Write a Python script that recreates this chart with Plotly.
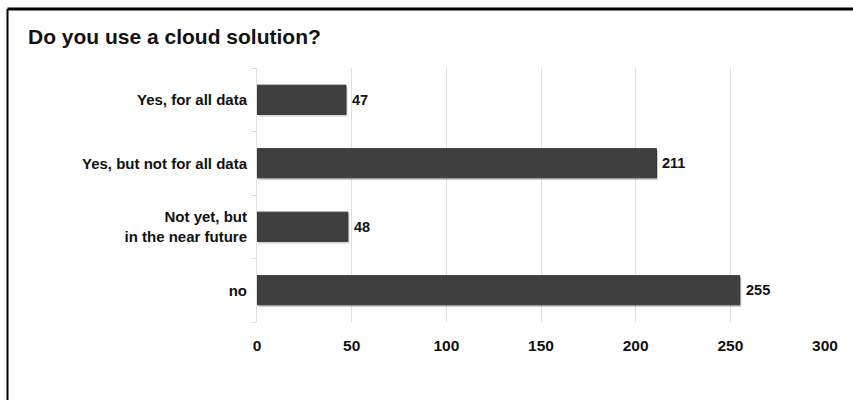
import plotly.graph_objects as go

categories = ["Yes, for all data", "Yes, but not for all data", "Not yet, but<br>in the near future", "no"]
values = [47, 211, 48, 255]
x_ticks = [0, 50, 100, 150, 200, 250, 300]

FONT = "Liberation Sans, Arial, sans-serif"

fig = go.Figure()
# soft shadow behind bars
fig.add_trace(go.Bar(
    x=values, y=categories, orientation="h", base=0.8,
    marker=dict(color="rgba(0,0,0,0.18)", line=dict(width=0)),
    width=0.46, offset=-0.23 - 0.035, hoverinfo="skip",
))
fig.add_trace(go.Bar(
    x=values, y=categories, orientation="h",
    marker=dict(color="#3f3f3f", line=dict(color="#333333", width=1)),
    cliponaxis=False, width=0.46, offset=-0.23,
))
for cat, v in zip(categories, values):
    fig.add_annotation(x=v, y=cat, text=str(v), showarrow=False, xanchor="left",
                       xshift=4, font=dict(family=FONT, size=14.5, color="#111111", weight="bold"))

fig.update_layout(
    width=853, height=400,
    margin=dict(l=257, r=28, t=68, b=78),
    paper_bgcolor="white", plot_bgcolor="white",
    showlegend=False, barmode="overlay",
    title=dict(text="Do you use a cloud solution?", x=28/853, xanchor="left",
               y=1-37/400, yanchor="middle",
               font=dict(family=FONT, size=21, color="#111111", weight="bold")),
    font=dict(family=FONT, color="#111111"),
)
fig.update_xaxes(range=[0, 300], tickvals=x_ticks, showgrid=True, gridcolor="#e0e0e0",
                 gridwidth=1, zeroline=False, showline=False,
                 tickfont=dict(family=FONT, size=15.5, color="#111111", weight="bold"),
                 ticks="", ticklabelstandoff=12)
fig.update_yaxes(categoryorder="array", categoryarray=categories[::-1],
                 showline=True, linecolor="#e0e0e0", linewidth=1,
                 ticks="outside", tickson="boundaries", ticklen=5, tickcolor="#e0e0e0",
                 showgrid=False,
                 tickfont=dict(family=FONT, size=15, color="#111111", weight="bold"),
                 ticklabelstandoff=6)

# frame lines (top and left) of the original picture
fig.add_shape(type="line", xref="paper", yref="paper",
              x0=(7.5-257)/568, x1=(853-257)/568, y0=(322-9)/254, y1=(322-9)/254,
              line=dict(color="black", width=3))
fig.add_shape(type="line", xref="paper", yref="paper",
              x0=(7.5-257)/568, x1=(7.5-257)/568, y0=(322-9)/254, y1=(322-400)/254,
              line=dict(color="black", width=2))

fig.write_html("out.html")
